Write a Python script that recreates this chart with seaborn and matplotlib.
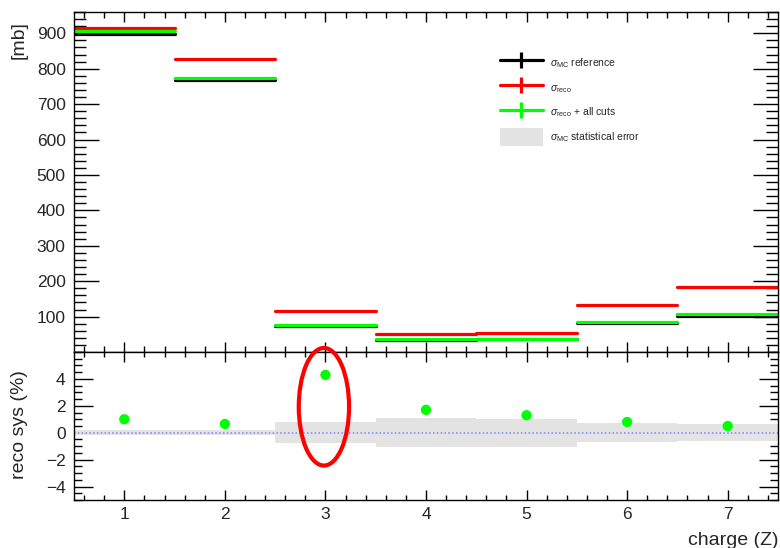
import numpy as np
import pandas as pd
import matplotlib
matplotlib.use("Agg")
import matplotlib.pyplot as plt
import seaborn as sns
from matplotlib.lines import Line2D
from matplotlib.patches import Patch, Ellipse
from matplotlib.ticker import MultipleLocator

# ---------------- data ----------------
charges = [1, 2, 3, 4, 5, 6, 7]
sigma_mc_ref = [897, 767, 73, 35, 36, 81, 103]
sigma_reco = [915, 827, 115, 50, 54, 132, 184]
sigma_reco_cuts = [907, 773, 77, 37, 37, 85, 107]
reco_sys = [1.0, 0.65, 4.3, 1.7, 1.3, 0.8, 0.5]
stat_err = [0.2, 0.2, 0.78, 1.07, 1.05, 0.72, 0.63]

legend_labels = [r"$\sigma_{\rm MC}$ reference", r"$\sigma_{\rm reco}$",
                 r"$\sigma_{\rm reco}$ + all cuts", r"$\sigma_{\rm MC}$ statistical error"]

sns.set_theme(style="ticks")
plt.rcParams["font.family"] = ["Liberation Sans", "DejaVu Sans"]
plt.rcParams["mathtext.fontset"] = "custom"
plt.rcParams["mathtext.rm"] = "Liberation Sans"
plt.rcParams["mathtext.it"] = "Liberation Sans:italic"
plt.rcParams["mathtext.sf"] = "Liberation Sans"

W, H = 780, 548
fig = plt.figure(figsize=(W / 100, H / 100), dpi=100)
left, right = 74 / W, 778 / W
ax_top = fig.add_axes([left, 1 - 352 / H, right - left, (352 - 12) / H])
ax_bot = fig.add_axes([left, 1 - 500 / H, right - left, (500 - 352) / H])


def bins_frame(values):
    rows = []
    for i, (c, v) in enumerate(zip(charges, values)):
        rows.append({"x": c - 0.5, "y": v, "bin": i})
        rows.append({"x": c + 0.5, "y": v, "bin": i})
    return pd.DataFrame(rows)


lw = 2.3
for vals, col in [(sigma_mc_ref, "black"), (sigma_reco, "#ff0000"), (sigma_reco_cuts, "#00ff00")]:
    sns.lineplot(data=bins_frame(vals), x="x", y="y", units="bin", estimator=None,
                 color=col, lw=lw, ax=ax_top, legend=False)

TICK_FS = 12.5
LABEL_FS = 14

ax_top.set_xlim(0.5, 7.5)
ax_top.set_ylim(0, 960)
ax_top.yaxis.set_minor_locator(MultipleLocator(20))
ax_top.xaxis.set_major_locator(MultipleLocator(1))
ax_top.xaxis.set_minor_locator(MultipleLocator(0.2))
ax_top.set_yticks(np.arange(100, 1000, 100))
ax_top.tick_params(axis="both", which="both", direction="in", top=True, right=True,
                   labelbottom=False, labelsize=TICK_FS, color="black")
ax_top.tick_params(axis="y", which="major", length=18, width=1, pad=6)
ax_top.tick_params(axis="y", which="minor", length=8.5, width=1)
ax_top.tick_params(axis="x", which="major", length=7, width=1)
ax_top.tick_params(axis="x", which="minor", length=4, width=1)
ax_top.set_xlabel("")
ax_top.set_ylabel("[mb]", fontsize=LABEL_FS, loc="top")
ax_top.yaxis.set_label_coords(-0.0655, 0.9735)

handles = [
    Line2D([], [], color="black", lw=lw, marker="|", markersize=11.5, markeredgewidth=lw),
    Line2D([], [], color="#ff0000", lw=lw, marker="|", markersize=11.5, markeredgewidth=lw),
    Line2D([], [], color="#00ff00", lw=lw, marker="|", markersize=11.5, markeredgewidth=lw),
    Patch(facecolor="#e3e3e3", edgecolor="none"),
]
fig.legend(handles=handles, labels=legend_labels, loc="upper left",
           bbox_to_anchor=(500 / W, 1 - 54 / H), frameon=False, fontsize=7.5,
           handlelength=4.1, handleheight=2.3, handletextpad=0.7, labelspacing=0.63,
           borderpad=0, borderaxespad=0)

# bottom panel
ax_bot.bar(charges, [2 * e for e in stat_err], bottom=[-e for e in stat_err], width=1.0,
           color="#e3e3e3", edgecolor="none", zorder=1)
ax_bot.axhline(0, color="#7f7fff", lw=1.1, ls=(0, (1, 1.5)), zorder=2)
sns.scatterplot(x=charges, y=reco_sys, color="#00ff00", s=55, edgecolor="none",
                ax=ax_bot, zorder=3, legend=False)

ax_bot.set_xlim(0.5, 7.5)
ax_bot.set_ylim(-5, 6)
ax_bot.set_yticks([-4, -2, 0, 2, 4])
ax_bot.set_yticklabels(["\u22124", "\u22122", "0", "2", "4"])
ax_bot.yaxis.set_minor_locator(MultipleLocator(0.5))
ax_bot.xaxis.set_major_locator(MultipleLocator(1))
ax_bot.xaxis.set_minor_locator(MultipleLocator(0.2))
ax_bot.tick_params(axis="both", which="both", direction="in", top=True, right=True,
                   labelsize=TICK_FS, color="black")
ax_bot.tick_params(axis="y", which="major", length=13.5, width=1, pad=6)
ax_bot.tick_params(axis="y", which="minor", length=6, width=1)
ax_bot.tick_params(axis="x", which="major", length=7, width=1, pad=5)
ax_bot.tick_params(axis="x", which="minor", length=3.5, width=1)
ax_bot.set_ylabel("reco sys (%)", fontsize=LABEL_FS)
ax_bot.yaxis.set_label_coords(-0.0655, 0.507)
ax_bot.set_xlabel("charge (Z)", fontsize=LABEL_FS, loc="right", labelpad=7)

ell = Ellipse((2.985, 1.93), width=0.5, height=8.74, fill=False, edgecolor="#ff0000",
              lw=3, clip_on=False, zorder=5)
ax_bot.add_patch(ell)

for ax in (ax_top, ax_bot):
    for s in ax.spines.values():
        s.set_linewidth(1)
        s.set_color("black")

fig.savefig("out.png", dpi=100)
